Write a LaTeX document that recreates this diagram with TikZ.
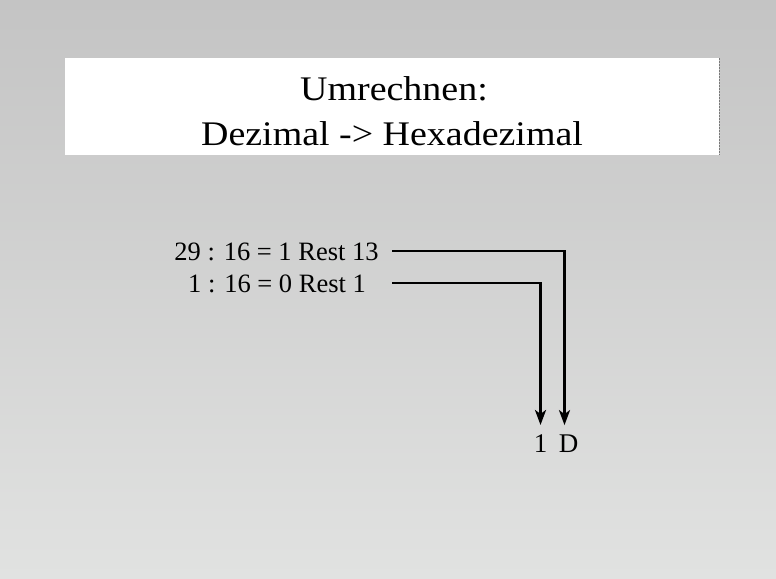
\documentclass[tikz,border=0pt]{standalone}
\usepackage{fontspec}
\setmainfont{Liberation Serif}
\usetikzlibrary{arrows.meta}
\definecolor{bgtop}{RGB}{196,196,196}
\definecolor{bgbottom}{RGB}{225,226,225}
\definecolor{edgegray}{RGB}{120,120,120}
\tikzset{
  titletext/.style={font=\fontsize{34.5}{38}\selectfont, anchor=base, inner sep=0pt, xscale=1.1, transform shape},
  eqtext/.style={font=\fontsize{26.5}{30}\selectfont, anchor=base, inner sep=0pt},
  digit/.style={font=\fontsize{27}{30}\selectfont, anchor=base, inner sep=0pt},
  conn/.style={line width=2.7pt, -{Stealth[length=15pt, width=11pt, inset=4pt]}, shorten >=9pt}
}
\begin{document}
\begin{tikzpicture}[x=1pt, y=-1pt]
  \useasboundingbox (0,0) rectangle (776,578);
  % slide background
  \shade[top color=bgtop, bottom color=bgbottom] (0,0) rectangle (776,578);
  % title panel
  \fill[white] (65,58) rectangle (719,155);
  \draw[edgegray, line width=0.8pt, dash pattern=on 2pt off 1pt] (719.4,58) -- (719.4,155);
  \node[titletext] (title1) at (394,100) {Umrechnen:};
  \node[titletext] (title2) at (392,145) {Dezimal -> Hexadezimal};
  % divisions
  \node[eqtext] (eqA) at (276.5,260) {29 : 16 = 1 Rest 13};
  \node[eqtext] (eqB) at (277,292) {1 : 16 = 0 Rest 1};
  % resulting hex digits
  \node[digit] (hexOne) at (540.5,452) {1};
  \node[digit] (hexD) at (568.5,452) {D};
  % start points of the connectors
  \coordinate (startA) at (392,251);
  \coordinate (startB) at (392,283);
  \draw[conn] (startA) -| ([xshift=-4pt]hexD.north);
  \draw[conn] (startB) -| (hexOne.north);
\end{tikzpicture}
\end{document}
